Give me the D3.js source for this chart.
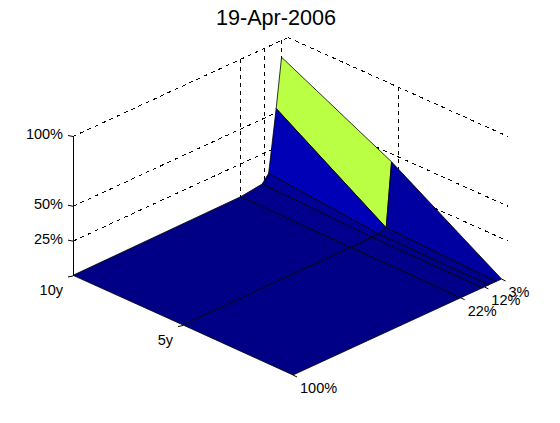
<!DOCTYPE html>
<html>
<head>
<meta charset="utf-8">
<script src="https://cdn.jsdelivr.net/npm/d3@7"></script>
<style>
html, body { margin: 0; padding: 0; background: #fff; }
text { font-family: "Liberation Sans", Arial, sans-serif; fill: #000; }
</style>
</head>
<body>
<svg id="chart" width="560" height="423"></svg>
<script>
// surface: strike (%), maturity (years), vol (%)
var strikes = [3, 5.5, 9, 12, 22, 100];
var maturities = [10, 5, 0];
var vol10y = [88, 53, 9, 3.5, 1.5, 0.5];
var vol5y = [48.5, 3, 1, 0.8, 0.6, 0.4];
var vol0y = [0, 0, 0, 0, 0, 0];
var surface = [vol10y, vol5y, vol0y];
// face colour values, one per strike and maturity
var color10y = [88, 53, 5.2, 2.2, 1.2, 0.6];
var color5y = [48.5, 3, 1.2, 1, 0.8, 0.6];
var faceColors = [color10y, color5y];

var strikeTicks = [100, 22, 11, 3];
var strikeLabels = ["100%", "22%", "12%", "3%"];
var maturityTicks = [10, 5];
var maturityLabels = ["10y", "5y"];
var volTicks = [25, 50, 100];
var volLabels = ["25%", "50%", "100%"];
var title = "19-Apr-2006";

var svg = d3.select("#chart");

// 3d view, front floor corner is strike 100 / maturity 0
var strikeX = d3.scaleLinear().domain([100, 0]).range([293, 508]);
var strikeY = d3.scaleLinear().domain([100, 0]).range([375, 276]);
var matX = d3.scaleLinear().domain([0, 10]).range([0, -220]);
var matY = d3.scaleLinear().domain([0, 10]).range([0, -99]);
var volY = d3.scaleLinear().domain([0, 100]).range([0, -139.5]);
var colorVal = d3.scaleLinear().domain([0, 95]).range([0, 1]).clamp(true);

function px(s, m) { return strikeX(s) + matX(m); }
function py(s, m, v) { return strikeY(s) + matY(m) + volY(v || 0); }

function jet(z) {
  var v = colorVal(z);
  function c(o) { return Math.round(255 * Math.max(0, Math.min(1, 1.5 - Math.abs(4 * v - o)))); }
  return d3.rgb(c(3), c(2), c(1)).toString();
}

var grid = svg.append("g").attr("fill", "none").attr("stroke", "#000")
  .attr("stroke-dasharray", "4,4").attr("shape-rendering", "crispEdges");

function segment(g, x1, y1, x2, y2) {
  return g.append("line").attr("x1", x1).attr("y1", y1).attr("x2", x2).attr("y2", y2);
}

// back walls, horizontal lines
volTicks.forEach(function(v) {
  segment(grid, px(100, 10), py(100, 10, v), px(0, 10), py(0, 10, v));
  segment(grid, px(0, 10), py(0, 10, v), px(0, 0), py(0, 0, v));
});
// back walls, vertical lines
strikeTicks.slice(1).forEach(function(s) {
  segment(grid, px(s, 10), py(s, 10, 0), px(s, 10), py(s, 10, 100));
});
segment(grid, px(0, 5), py(0, 5, 0), px(0, 5), py(0, 5, 100));

// faces, back to front, flat colour taken from one corner like matlab surf
var faces = svg.append("g").attr("stroke", "#000").attr("stroke-width", 0.8).attr("stroke-linejoin", "round");
d3.range(maturities.length - 1).forEach(function(i) {
  d3.range(strikes.length - 1).forEach(function(j) {
    var pts = [[i, j], [i, j + 1], [i + 1, j + 1], [i + 1, j]].map(function(c) {
      var s = strikes[c[1]], m = maturities[c[0]], v = surface[c[0]][c[1]];
      return [px(s, m), py(s, m, v)];
    });
    faces.append("polygon")
      .attr("points", pts.map(function(p) { return p.join(","); }).join(" "))
      .attr("fill", jet(faceColors[i][j + 1]));
  });
});

// axes
var axes = svg.append("g").attr("stroke", "#000").attr("fill", "none");
segment(axes, px(100, 10), py(100, 10, 0), px(100, 10), py(100, 10, 100)).attr("shape-rendering", "crispEdges");

strikeTicks.forEach(function(s, i) {
  var x = px(s, 0), y = py(s, 0, 0);
  segment(axes, x, y, x + 4, y + 2);
  svg.append("text").attr("x", x + 7).attr("y", y + 18)
    .attr("font-size", 14.5).text(strikeLabels[i]);
});
maturityTicks.forEach(function(m, i) {
  var x = px(100, m), y = py(100, m, 0);
  segment(axes, x, y, x - 5, y + 1);
  svg.append("text").attr("x", x - 10).attr("y", y + 19)
    .attr("font-size", 14.5).attr("text-anchor", "end").text(maturityLabels[i]);
});
volTicks.forEach(function(v, i) {
  var x = px(100, 10), y = py(100, 10, v);
  segment(axes, x, y, x - 5, y - 1);
  svg.append("text").attr("x", x - 10).attr("y", y + 2.5)
    .attr("font-size", 14.5).attr("text-anchor", "end").text(volLabels[i]);
});

svg.append("text").attr("x", 276).attr("y", 25)
  .attr("font-size", 21.6).attr("text-anchor", "middle").text(title);
</script>
</body>
</html>
